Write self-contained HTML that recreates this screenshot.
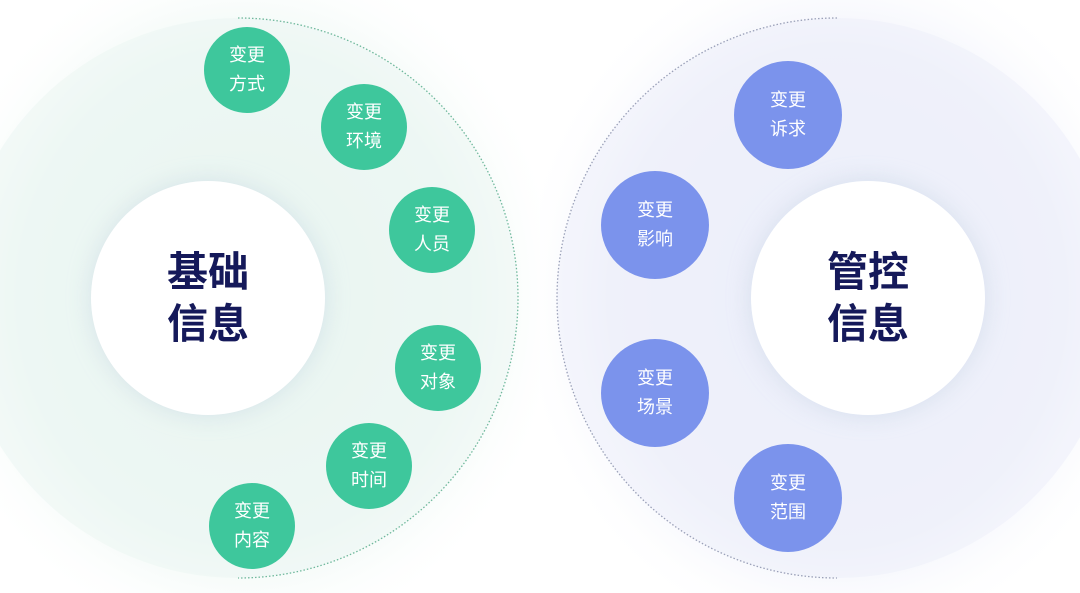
<!DOCTYPE html>
<html><head><meta charset="utf-8"><style>
html,body{margin:0;width:1080px;height:593px;overflow:hidden;background:#fff}
body{position:relative;font-family:"Liberation Sans","Noto Sans CJK SC",sans-serif}
.c{position:absolute;border-radius:50%;display:flex;align-items:center;justify-content:center;text-align:center}
.g{background:#3ec79c;color:#fff;font-size:18px;line-height:29px;width:86px;height:86px}
.b{background:#7b93ec;color:#fff;font-size:18px;line-height:29px;width:108px;height:108px}
.w{background:#fff;width:234px;height:234px;color:#15195a;font-weight:bold;font-size:41px;line-height:52px;box-shadow:0 0 24px rgba(180,200,220,.4)}
</style></head><body>
<svg width="1080" height="593" style="position:absolute;left:0;top:0;overflow:hidden">
<defs>
<radialGradient id="gl" cx="0.45" cy="0.5" r="0.6"><stop offset="0" stop-color="#e3f3ed"/><stop offset="0.7" stop-color="#eef8f4"/><stop offset="1" stop-color="#fff" stop-opacity="0"/></radialGradient>
<radialGradient id="gr" cx="0.55" cy="0.5" r="0.6"><stop offset="0" stop-color="#e8ebf8"/><stop offset="0.7" stop-color="#f0f2fb"/><stop offset="1" stop-color="#fff" stop-opacity="0"/></radialGradient>
</defs>
<rect x="0" y="0" width="540" height="593" fill="url(#gl)"/>
<rect x="540" y="0" width="540" height="593" fill="url(#gr)"/>
<circle cx="238" cy="298" r="280" fill="#ecf7f3" fill-opacity="0.6"/>
<circle cx="837" cy="298" r="280" fill="#eef0fa" fill-opacity="0.6"/>
<path d="M238 18 A280 280 0 0 1 238 578" fill="none" stroke="#6fb89c" stroke-width="1.3" stroke-dasharray="1.5 2"/>
<path d="M837 18 A280 280 0 0 0 837 578" fill="none" stroke="#9aa0b8" stroke-width="1.3" stroke-dasharray="1.5 2"/>
</svg>
<div class="c w" style="left:91px;top:181px">基础<br>信息</div>
<div class="c w" style="left:751px;top:181px">管控<br>信息</div>
<div class="c g" style="left:204px;top:27px">变更<br>方式</div>
<div class="c g" style="left:321px;top:84px">变更<br>环境</div>
<div class="c g" style="left:389px;top:187px">变更<br>人员</div>
<div class="c g" style="left:395px;top:325px">变更<br>对象</div>
<div class="c g" style="left:326px;top:423px">变更<br>时间</div>
<div class="c g" style="left:209px;top:483px">变更<br>内容</div>
<div class="c b" style="left:734px;top:61px">变更<br>诉求</div>
<div class="c b" style="left:601px;top:171px">变更<br>影响</div>
<div class="c b" style="left:601px;top:339px">变更<br>场景</div>
<div class="c b" style="left:734px;top:444px">变更<br>范围</div>
</body></html>
